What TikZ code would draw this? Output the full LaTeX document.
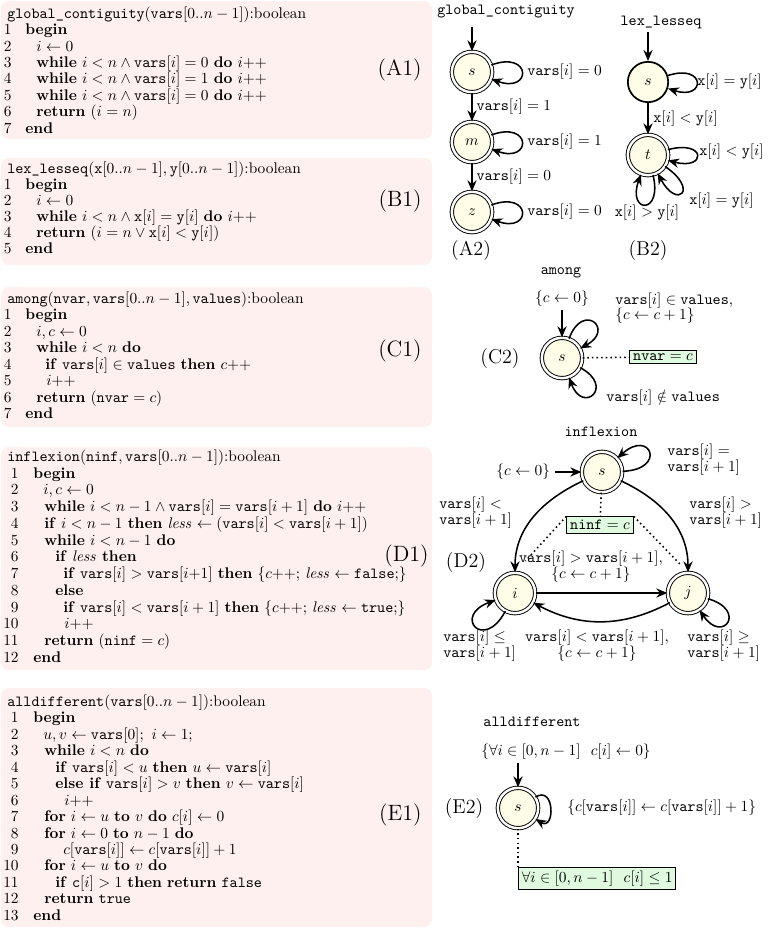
\documentclass[tikz,border=0pt]{standalone}
\usetikzlibrary{arrows.meta}
\definecolor{codebg}{RGB}{255,240,240}
\definecolor{statefill}{RGB}{255,253,232}
\definecolor{invfill}{RGB}{224,250,224}
\newcommand{\kw}[1]{\textbf{#1}}
\newcommand{\tv}[1]{\mathtt{#1}}
\newcommand{\codeln}[6]{\node[numst] (#1n) at (#3,-#2) {#4};\node[codest] (#1) at (#5,-#2) {#6};}
% self loop: node, out angle, in angle, control length
\newcommand{\selfloop}[4]{\draw[tr] (#1.#2) .. controls +(#2:#4) and +(#3:#4) .. (#1.#3);}
\tikzset{
  codest/.style={anchor=mid west, inner sep=0pt},
  numst/.style={anchor=mid east, inner sep=0pt},
  panel/.style={fill=codebg, rounded corners=5pt},
  bigl/.style={anchor=mid east, inner sep=0pt, font=\Large},
  autl/.style={inner sep=0pt, font=\fontsize{13}{15}\selectfont},
  title/.style={inner sep=0pt, font=\ttfamily},
  st/.style={circle, draw, fill=statefill, inner sep=0pt},
  acc/.style={st, double, double distance=1.6pt, line width=0.6pt, minimum size=26.2pt},
  nacc/.style={st, line width=1.1pt, minimum size=26.2pt},
  tr/.style={-{Stealth[length=7.2pt,width=6pt,inset=2.4pt]}, line width=1pt},
  inv/.style={draw, fill=invfill, line width=0.7pt, inner sep=2.2pt},
  dots/.style={dotted, line width=1pt},
  twol/.style={align=left, inner sep=0pt, font=\fontsize{10}{10}\selectfont},
  twoc/.style={align=center, inner sep=0pt, font=\fontsize{10}{10}\selectfont},
  lab/.style={inner sep=0pt},
}
\begin{document}
\begin{tikzpicture}[x=0.6494pt, y=0.6494pt]
\useasboundingbox (0,0) rectangle (779,-929);

% ---------- panels ----------
\fill[panel] (1,-1) rectangle (432,-139);
\fill[panel] (1,-158) rectangle (432,-265);
\fill[panel] (1,-287) rectangle (432,-427);
\fill[panel] (1,-447) rectangle (432,-670);
\fill[panel] (1,-688) rectangle (432,-927);

% ---------- A1 ----------
\node[codest] (a1h) at (7,-15) {\texttt{global\_contiguity}$(\tv{vars}[0..n-1])$:boolean};
\codeln{a1l1}{31.4}{12}{1}{25}{\kw{begin}}
\codeln{a1l2}{47.8}{12}{2}{36}{$i\leftarrow 0$}
\codeln{a1l3}{64.2}{12}{3}{36}{\kw{while} $i<n\wedge\tv{vars}[i]=0$ \kw{do} $i{+}{+}$}
\codeln{a1l4}{80.6}{12}{4}{36}{\kw{while} $i<n\wedge\tv{vars}[i]=1$ \kw{do} $i{+}{+}$}
\codeln{a1l5}{97}{12}{5}{36}{\kw{while} $i<n\wedge\tv{vars}[i]=0$ \kw{do} $i{+}{+}$}
\codeln{a1l6}{113.4}{12}{6}{36}{\kw{return} $(i=n)$}
\codeln{a1l7}{129.8}{12}{7}{25}{\kw{end}}
\node[bigl] (a1lab) at (422,-72) {(A1)};

% ---------- B1 ----------
\node[codest] (b1h) at (7,-170) {\texttt{lex\_lesseq}$(\tv{x}[0..n-1],\tv{y}[0..n-1])$:boolean};
\codeln{b1l1}{186}{12}{1}{25}{\kw{begin}}
\codeln{b1l2}{202}{12}{2}{36}{$i\leftarrow 0$}
\codeln{b1l3}{218}{12}{3}{36}{\kw{while} $i<n\wedge\tv{x}[i]=\tv{y}[i]$ \kw{do} $i{+}{+}$}
\codeln{b1l4}{234}{12}{4}{36}{\kw{return} $(i=n\vee\tv{x}[i]<\tv{y}[i])$}
\codeln{b1l5}{250}{12}{5}{25}{\kw{end}}
\node[bigl] (b1lab) at (422,-203) {(B1)};

% ---------- C1 ----------
\node[codest] (c1h) at (7,-300) {\texttt{among}$(\tv{nvar},\tv{vars}[0..n-1],\tv{values})$:boolean};
\codeln{c1l1}{316.5}{12}{1}{25}{\kw{begin}}
\codeln{c1l2}{333}{12}{2}{36}{$i,c\leftarrow 0$}
\codeln{c1l3}{349.5}{12}{3}{36}{\kw{while} $i<n$ \kw{do}}
\codeln{c1l4}{366}{12}{4}{45}{\kw{if} $\tv{vars}[i]\in\tv{values}$ \kw{then} $c{+}{+}$}
\codeln{c1l5}{382.5}{12}{5}{46}{$i{+}{+}$}
\codeln{c1l6}{399}{12}{6}{36}{\kw{return} $(\tv{nvar}=c)$}
\codeln{c1l7}{415.5}{12}{7}{25}{\kw{end}}
\node[bigl] (c1lab) at (422,-353) {(C1)};

% ---------- D1 ----------
\node[codest] (d1h) at (7,-458) {\texttt{inflexion}$(\tv{ninf},\tv{vars}[0..n-1])$:boolean};
\codeln{d1l1}{475}{19}{1}{33}{\kw{begin}}
\codeln{d1l2}{491.5}{19}{2}{43}{$i,c\leftarrow 0$}
\codeln{d1l3}{508.3}{19}{3}{44}{\kw{while} $i<n-1\wedge\tv{vars}[i]=\tv{vars}[i+1]$ \kw{do} $i{+}{+}$}
\codeln{d1l4}{525}{19}{4}{44}{\kw{if} $i<n-1$ \kw{then} $\mathit{less}\leftarrow(\tv{vars}[i]<\tv{vars}[i+1])$}
\codeln{d1l5}{541.7}{19}{5}{44}{\kw{while} $i<n-1$ \kw{do}}
\codeln{d1l6}{558.5}{19}{6}{55}{\kw{if} $\mathit{less}$ \kw{then}}
\codeln{d1l7}{575.2}{19}{7}{63}{\kw{if} $\tv{vars}[i]>\tv{vars}[i{+}1]$ \kw{then} $\{c{+}{+};\,\mathit{less}\leftarrow\tv{false}{;}\}$}
\codeln{d1l8}{592}{19}{8}{55}{\kw{else}}
\codeln{d1l9}{608.7}{19}{9}{63}{\kw{if} $\tv{vars}[i]<\tv{vars}[i+1]$ \kw{then} $\{c{+}{+};\,\mathit{less}\leftarrow\tv{true}{;}\}$}
\codeln{d1l10}{625.5}{19}{10}{64}{$i{+}{+}$}
\codeln{d1l11}{642.2}{19}{11}{44}{\kw{return} $(\tv{ninf}=c)$}
\codeln{d1l12}{659}{19}{12}{33}{\kw{end}}
\node[bigl] (d1lab) at (429,-558) {(D1)};

% ---------- E1 ----------
\node[codest] (e1h) at (7,-703) {\texttt{alldifferent}$(\tv{vars}[0..n-1])$:boolean};
\codeln{e1l1}{719.5}{19}{1}{33}{\kw{begin}}
\codeln{e1l2}{736}{19}{2}{43}{$u,v\leftarrow\tv{vars}[0];\ i\leftarrow 1;$}
\codeln{e1l3}{752.4}{19}{3}{44}{\kw{while} $i<n$ \kw{do}}
\codeln{e1l4}{768.9}{19}{4}{55}{\kw{if} $\tv{vars}[i]<u$ \kw{then} $u\leftarrow\tv{vars}[i]$}
\codeln{e1l5}{785.3}{19}{5}{55}{\kw{else if} $\tv{vars}[i]>v$ \kw{then} $v\leftarrow\tv{vars}[i]$}
\codeln{e1l6}{801.8}{19}{6}{64}{$i{+}{+}$}
\codeln{e1l7}{818.3}{19}{7}{44}{\kw{for} $i\leftarrow u$ \kw{to} $v$ \kw{do} $c[i]\leftarrow 0$}
\codeln{e1l8}{834.7}{19}{8}{44}{\kw{for} $i\leftarrow 0$ \kw{to} $n-1$ \kw{do}}
\codeln{e1l9}{851.2}{19}{9}{63}{$c[\tv{vars}[i]]\leftarrow c[\tv{vars}[i]]+1$}
\codeln{e1l10}{867.6}{19}{10}{44}{\kw{for} $i\leftarrow u$ \kw{to} $v$ \kw{do}}
\codeln{e1l11}{884.1}{19}{11}{55}{\kw{if} $\tv{c}[i]>1$ \kw{then} \kw{return} \texttt{false}}
\codeln{e1l12}{900.6}{19}{12}{44}{\kw{return} \texttt{true}}
\codeln{e1l13}{917}{19}{13}{33}{\kw{end}}
\node[bigl] (e1lab) at (422,-817) {(E1)};

% ---------- A2 ----------
\node[title] (a2t) at (506,-12) {global\_contiguity};
\coordinate (a2i) at (472,-27);
\node[acc] (as) at (472,-72) {$s$};
\node[acc] (am) at (472,-142) {$m$};
\node[acc] (az) at (472,-212) {$z$};
\draw[tr] (a2i) -- (as);
\draw[tr] (as) -- node[right, inner sep=2.5pt] (asm) {$\tv{vars}[i]=1$} (am);
\draw[tr] (am) -- node[right, inner sep=2.5pt] (amz) {$\tv{vars}[i]=0$} (az);
\selfloop{as}{20}{-20}{28pt}
\selfloop{am}{20}{-20}{28pt}
\selfloop{az}{20}{-20}{28pt}
\node[lab, anchor=west] (asl) at (527,-72) {$\tv{vars}[i]=0$};
\node[lab, anchor=west] (aml) at (527,-142) {$\tv{vars}[i]=1$};
\node[lab, anchor=west] (azl) at (527,-212) {$\tv{vars}[i]=0$};
\node[autl] (a2lab) at (471,-250) {(A2)};

% ---------- B2 ----------
\node[title] (b2t) at (661,-23) {lex\_lesseq};
\coordinate (b2i) at (648,-32);
\node[nacc] (bs) at (648,-82) {$s$};
\node[acc] (bt) at (648,-155) {$t$};
\draw[tr] (b2i) -- (bs);
\draw[tr] (bs) -- node[right, inner sep=3pt] (bst) {$\tv{x}[i]<\tv{y}[i]$} (bt);
\selfloop{bs}{18}{-18}{26pt}
\selfloop{bt}{15}{-15}{26pt}
\selfloop{bt}{-34}{-62}{27pt}
\selfloop{bt}{-76}{-110}{27pt}
\node[lab, anchor=west] (bsl) at (697,-82) {$\tv{x}[i]=\tv{y}[i]$};
\node[lab, anchor=west] (btl1) at (699,-152) {$\tv{x}[i]<\tv{y}[i]$};
\node[lab, anchor=west] (btl2) at (689,-201) {$\tv{x}[i]=\tv{y}[i]$};
\node[lab] (btl3) at (647,-213) {$\tv{x}[i]>\tv{y}[i]$};
\node[autl] (b2lab) at (648,-250) {(B2)};

% ---------- C2 ----------
\node[title] (c2t) at (561,-273) {among};
\coordinate (c2i) at (562,-310);
\node[inner sep=2pt, anchor=south] (c2il) at (c2i) {$\{c\leftarrow 0\}$};
\node[acc] (cs) at (562,-358) {$s$};
\draw[tr] (c2i) -- (cs);
\selfloop{cs}{70}{28}{26pt}
\selfloop{cs}{-28}{-70}{26pt}
\node[twol, anchor=west] (csl1) at (615,-308) {$\tv{vars}[i]\in\tv{values}$,\\$\{c\leftarrow c+1\}$};
\node[lab, anchor=west] (csl2) at (606,-398) {$\tv{vars}[i]\notin\tv{values}$};
\node[inv] (cb) at (663,-357) {$\tv{nvar}=c$};
\draw[dots] (cs) -- (cb);
\node[autl] (c2lab) at (500,-358) {(C2)};

% ---------- D2 ----------
\node[title] (d2t) at (601,-432) {inflexion};
\coordinate (d2i) at (555,-472);
\node[anchor=east, inner sep=3pt] (d2il) at (d2i) {$\{c\leftarrow 0\}$};
\node[acc] (ds) at (602,-472) {$s$};
\node[acc] (di) at (515,-593) {$i$};
\node[acc] (dj) at (688,-593) {$j$};
\node[inv] (db) at (600,-525) {$\tv{ninf}=c$};
\draw[tr] (d2i) -- (ds);
\selfloop{ds}{2}{42}{29pt}
\path (ds) edge[tr, out=205, in=90] (di);
\path (ds) edge[tr, out=-25, in=90] (dj);
\draw[tr] (di) -- (dj);
\path (dj) edge[tr, out=-152, in=-28] (di);
\selfloop{di}{-118}{-160}{30pt}
\selfloop{dj}{-16}{-56}{27pt}
\draw[dots] (ds) -- (db);
\draw[dots, shorten >=10pt] (db.north west) -- (di.north);
\draw[dots, shorten >=6pt] (db.north east) -- (dj.north);
\node[twol, anchor=west] (dsl) at (667,-459.5) {$\tv{vars}[i]=$\\$\tv{vars}[i+1]$};
\node[twol, anchor=west] (dsil) at (439,-512.5) {$\tv{vars}[i]<$\\$\tv{vars}[i+1]$};
\node[twol, anchor=west] (dsjl) at (689,-512.5) {$\tv{vars}[i]>$\\$\tv{vars}[i+1]$};
\node[twoc] (dijl) at (591,-566.5) {$\tv{vars}[i]>\tv{vars}[i+1]$,\\$\{c\leftarrow c+1\}$};
\node[twoc] (djil) at (597,-645.5) {$\tv{vars}[i]<\tv{vars}[i+1]$,\\$\{c\leftarrow c+1\}$};
\node[twol, anchor=west] (dil) at (443,-645.5) {$\tv{vars}[i]\leq$\\$\tv{vars}[i+1]$};
\node[twol, anchor=west] (djl) at (687,-645.5) {$\tv{vars}[i]\geq$\\$\tv{vars}[i+1]$};
\node[autl] (d2lab) at (466,-562) {(D2)};

% ---------- E2 ----------
\node[title] (e2t) at (532,-722) {alldifferent};
\node[inner sep=0pt] (e2il) at (566,-752) {$\{\forall i\in[0,n-1]\ \ c[i]\leftarrow 0\}$};
\coordinate (e2i) at (518,-763);
\node[acc] (es) at (518,-808) {$s$};
\draw[tr] (e2i) -- (es);
\selfloop{es}{32}{-32}{15pt}
\node[lab, anchor=west] (esl) at (567,-808) {$\{c[\tv{vars}[i]]\leftarrow c[\tv{vars}[i]]+1\}$};
\node[inv, anchor=north west] (eb) at (518,-867) {$\forall i\in[0,n-1]\ \ c[i]\leq 1$};
\draw[dots] (es) -- (eb.north west);
\node[autl] (e2lab) at (464,-808) {(E2)};
\end{tikzpicture}
\end{document}
